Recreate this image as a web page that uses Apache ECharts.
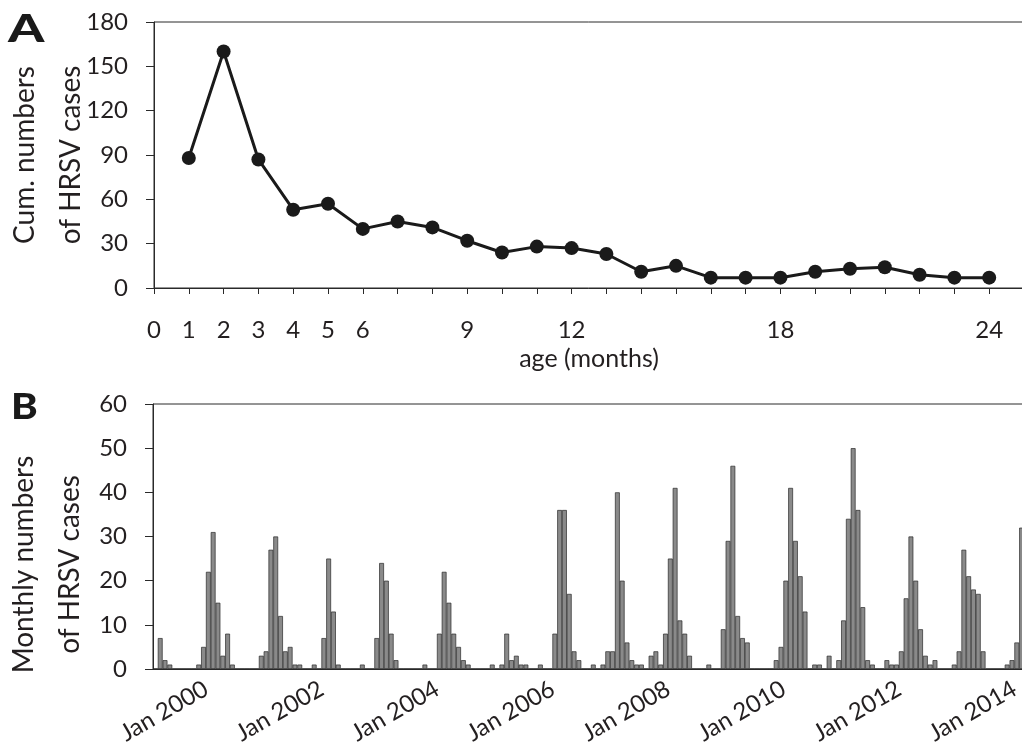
<!DOCTYPE html>
<html>
<head>
<meta charset="utf-8">
<script src="https://cdn.jsdelivr.net/npm/echarts@6/dist/echarts.min.js"></script>
<style>
html,body{margin:0;padding:0;background:#fff}
#main{width:1022px;height:745px}
</style>
</head>
<body>
<div id="main"></div>
<script>
// panel A: cumulative cases by age in months
var ageMonths = [1,2,3,4,5,6,7,8,9,10,11,12,13,14,15,16,17,18,19,20,21,22,23,24];
var cumCases  = [88,160,87,53,57,40,45,41,32,24,28,27,23,11,15,7,7,7,11,13,14,9,7,7];
var ageTickLabels = [0,1,2,3,4,5,6,9,12,18,24];

// panel B: monthly cases, Jan..Dec
var cases1999 = [0,7,2,1,0,0,0,0,0,1,5,22];
var cases2000 = [31,15,3,8,1,0,0,0,0,0,3,4];
var cases2001 = [27,30,12,4,5,1,1,0,0,1,0,7];
var cases2002 = [25,13,1,0,0,0,0,1,0,0,7,24];
var cases2003 = [20,8,2,0,0,0,0,0,1,0,0,8];
var cases2004 = [22,15,8,5,2,1,0,0,0,0,1,0];
var cases2005 = [1,8,2,3,1,1,0,0,1,0,0,8];
var cases2006 = [36,36,17,4,2,0,0,1,0,1,4,4];
var cases2007 = [40,20,6,2,1,1,0,3,4,1,8,25];
var cases2008 = [41,11,8,3,0,0,0,1,0,0,9,29];
var cases2009 = [46,12,7,6,0,0,0,0,0,2,5,20];
var cases2010 = [41,29,21,13,0,1,1,0,3,0,2,11];
var cases2011 = [34,50,36,14,2,1,0,0,2,1,1,4];
var cases2012 = [16,30,20,9,3,1,2,0,0,0,1,4];
var cases2013 = [27,21,18,17,4,0,0,0,0,1,2,6];
var cases2014 = [32];
var firstYear = 1999;
var monthNames = ['Jan','Feb','Mar','Apr','May','Jun','Jul','Aug','Sep','Oct','Nov','Dec'];

var monthly = [].concat(cases1999,cases2000,cases2001,cases2002,cases2003,cases2004,cases2005,
    cases2006,cases2007,cases2008,cases2009,cases2010,cases2011,cases2012,cases2013,cases2014);
var months = [];
for (var i = 0; i < monthly.length; i++) {
    months.push(monthNames[i % 12] + ' ' + (firstYear + Math.floor(i / 12)));
}

var FONT = 'Lato';
var TXT = '#231f20';
var AX = '#2a2a2a';

var myChart = echarts.init(document.getElementById('main'));
var option = {
    backgroundColor: '#fff',
    animation: false,
    textStyle: {fontFamily: FONT, color: TXT},
    graphic: [
        {type: 'text', x: 8, y: 12, scaleX: 1.4, style: {text: 'A', font: '900 37px ' + FONT, fill: '#1a1a1a'}},
        {type: 'text', x: 11, y: 389, scaleX: 1.12, style: {text: 'B', font: '900 36px ' + FONT, fill: '#1a1a1a'}}
    ],
    grid: [
        {left: 154, right: -2, top: 22, height: 266, outerBoundsMode: 'none', containLabel: false,
            show: true, borderColor: AX, borderWidth: 1, backgroundColor: 'transparent'},
        {left: 153, right: -2, top: 404, height: 265, outerBoundsMode: 'none', containLabel: false,
            show: true, borderColor: AX, borderWidth: 1, backgroundColor: 'transparent'}
    ],
    xAxis: [
        {
            gridIndex: 0, type: 'value', min: 0, max: 25, interval: 1,
            name: 'age (months)', nameLocation: 'middle', nameGap: 58, nameMoveOverlap: false,
            nameTextStyle: {fontSize: 25, color: TXT, fontFamily: FONT},
            axisLine: {lineStyle: {color: AX, width: 1}},
            axisTick: {length: 6, lineStyle: {color: AX}},
            splitLine: {show: false},
            axisLabel: {
                fontSize: 24, color: TXT, margin: 30,
                formatter: function (v) { return ageTickLabels.indexOf(v) >= 0 ? String(v) : ''; }
            }
        },
        {
            gridIndex: 1, type: 'category', data: months, boundaryGap: true,
            axisLine: {lineStyle: {color: AX, width: 1}},
            axisTick: {alignWithLabel: true, length: 6, lineStyle: {color: AX},
                interval: function (idx) { return idx % 12 === 0; }},
            axisLabel: {
                fontSize: 24, color: TXT, rotate: 30, margin: 14,
                padding: [0, 8, 0, 0],
                interval: function (idx) { return idx % 24 === 12; }
            }
        }
    ],
    yAxis: [
        {
            gridIndex: 0, type: 'value', min: 0, max: 180, interval: 30,
            name: 'Cum. numbers\nof HRSV cases', nameLocation: 'middle', nameGap: 60, nameMoveOverlap: false,
            nameTextStyle: {fontSize: 28, lineHeight: 46, color: TXT, fontFamily: FONT},
            axisLine: {show: true, lineStyle: {color: AX, width: 1}},
            axisTick: {show: true, length: 8, lineStyle: {color: AX}},
            splitLine: {show: false},
            axisLabel: {fontSize: 24, color: TXT, margin: 26}
        },
        {
            gridIndex: 1, type: 'value', min: 0, max: 60, interval: 10,
            name: 'Monthly numbers\nof HRSV cases', nameLocation: 'middle', nameGap: 60, nameMoveOverlap: false,
            nameTextStyle: {fontSize: 28, lineHeight: 46, color: TXT, fontFamily: FONT, padding: [0, 56, 0, 0]},
            axisLine: {show: true, lineStyle: {color: AX, width: 1}},
            axisTick: {show: true, length: 8, lineStyle: {color: AX}},
            splitLine: {show: false},
            axisLabel: {fontSize: 24, color: TXT, margin: 26}
        }
    ],
    series: [
        {
            type: 'line', xAxisIndex: 0, yAxisIndex: 0,
            data: ageMonths.map(function (a, k) { return [a, cumCases[k]]; }),
            symbol: 'circle', symbolSize: 14,
            lineStyle: {color: '#1a1a1a', width: 3},
            itemStyle: {color: '#1a1a1a'}
        },
        {
            type: 'bar', xAxisIndex: 1, yAxisIndex: 1,
            data: monthly, barWidth: '100%', barCategoryGap: '0%',
            itemStyle: {color: '#8a8a8a', borderColor: '#2a2a2a', borderWidth: 0.7}
        }
    ]
};
myChart.setOption(option);
</script>
</body>
</html>
